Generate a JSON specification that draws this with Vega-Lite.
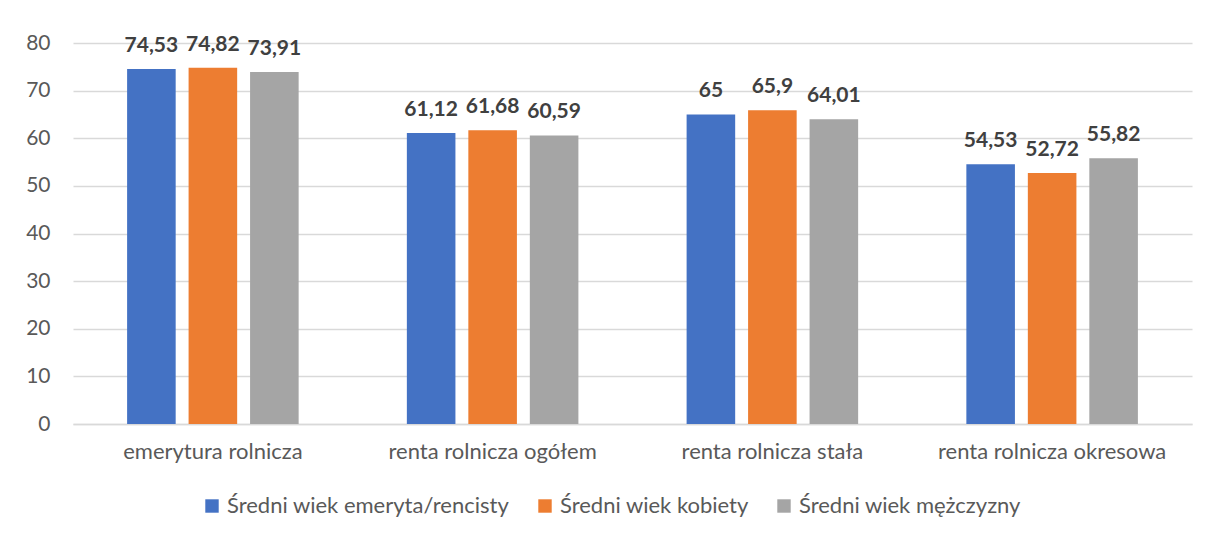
{
  "$schema": "https://vega.github.io/schema/vega-lite/v6.json",
  "autosize": {"type": "none"},
  "padding": {"left": 73, "top": 43, "right": 16, "bottom": 113},
  "width": 1119,
  "height": 381,
  "background": "white",
  "config": {
    "font": "Lato",
    "view": {"stroke": null},
    "locale": {"number": {"decimal": ",", "thousands": " ", "grouping": [3], "currency": ["", " zł"]}}
  },
  "data": {
    "values": [
      {"kategoria": "emerytura rolnicza", "seria": "Średni wiek emeryta/rencisty", "wartosc": 74.53},
      {"kategoria": "emerytura rolnicza", "seria": "Średni wiek kobiety", "wartosc": 74.82},
      {"kategoria": "emerytura rolnicza", "seria": "Średni wiek mężczyzny", "wartosc": 73.91},
      {"kategoria": "renta rolnicza ogółem", "seria": "Średni wiek emeryta/rencisty", "wartosc": 61.12},
      {"kategoria": "renta rolnicza ogółem", "seria": "Średni wiek kobiety", "wartosc": 61.68},
      {"kategoria": "renta rolnicza ogółem", "seria": "Średni wiek mężczyzny", "wartosc": 60.59},
      {"kategoria": "renta rolnicza stała", "seria": "Średni wiek emeryta/rencisty", "wartosc": 65},
      {"kategoria": "renta rolnicza stała", "seria": "Średni wiek kobiety", "wartosc": 65.9},
      {"kategoria": "renta rolnicza stała", "seria": "Średni wiek mężczyzny", "wartosc": 64.01},
      {"kategoria": "renta rolnicza okresowa", "seria": "Średni wiek emeryta/rencisty", "wartosc": 54.53},
      {"kategoria": "renta rolnicza okresowa", "seria": "Średni wiek kobiety", "wartosc": 52.72},
      {"kategoria": "renta rolnicza okresowa", "seria": "Średni wiek mężczyzny", "wartosc": 55.82}
    ]
  },
  "encoding": {
    "x": {
      "field": "kategoria", "type": "nominal", "sort": null,
      "scale": {"paddingInner": 0, "paddingOuter": 0},
      "axis": {
        "title": null, "labelAngle": 0, "labelFontSize": 22, "labelColor": "#595959",
        "labelPadding": 17, "labelLimit": 0, "ticks": false, "domainColor": "#D9D9D9", "domainWidth": 1.5, "grid": false
      }
    },
    "xOffset": {
      "field": "seria", "type": "nominal",
      "sort": ["Średni wiek emeryta/rencisty", "Średni wiek kobiety", "Średni wiek mężczyzny"],
      "scale": {"paddingInner": 0.21, "paddingOuter": 0.88}
    },
    "y": {
      "field": "wartosc", "type": "quantitative",
      "scale": {"domain": [0, 80], "nice": false},
      "axis": {
        "title": null, "values": [0, 10, 20, 30, 40, 50, 60, 70, 80], "labelFontSize": 21,
        "labelColor": "#595959", "labelPadding": 23, "ticks": false, "domain": false,
        "gridColor": "#D9D9D9", "gridWidth": 1.5
      }
    }
  },
  "layer": [
    {
      "mark": {"type": "bar"},
      "encoding": {
        "color": {
          "field": "seria", "type": "nominal",
          "scale": {
            "domain": ["Średni wiek emeryta/rencisty", "Średni wiek kobiety", "Średni wiek mężczyzny"],
            "range": ["#4472C4", "#ED7D31", "#A5A5A5"]
          },
          "legend": {
            "title": null, "orient": "none", "direction": "horizontal",
            "legendX": 128, "legendY": 452,
            "symbolType": "square", "symbolSize": 180, "symbolStrokeWidth": 0,
            "labelFontSize": 22, "labelColor": "#595959", "labelOffset": 4,
            "columnPadding": 24, "labelLimit": 400
          }
        }
      }
    },
    {
      "mark": {"type": "text", "baseline": "alphabetic", "dy": -17, "fontSize": 21, "fontWeight": "bold", "color": "#404040"},
      "encoding": {
        "text": {"field": "wartosc", "type": "quantitative", "format": "~g"}
      }
    }
  ]
}
